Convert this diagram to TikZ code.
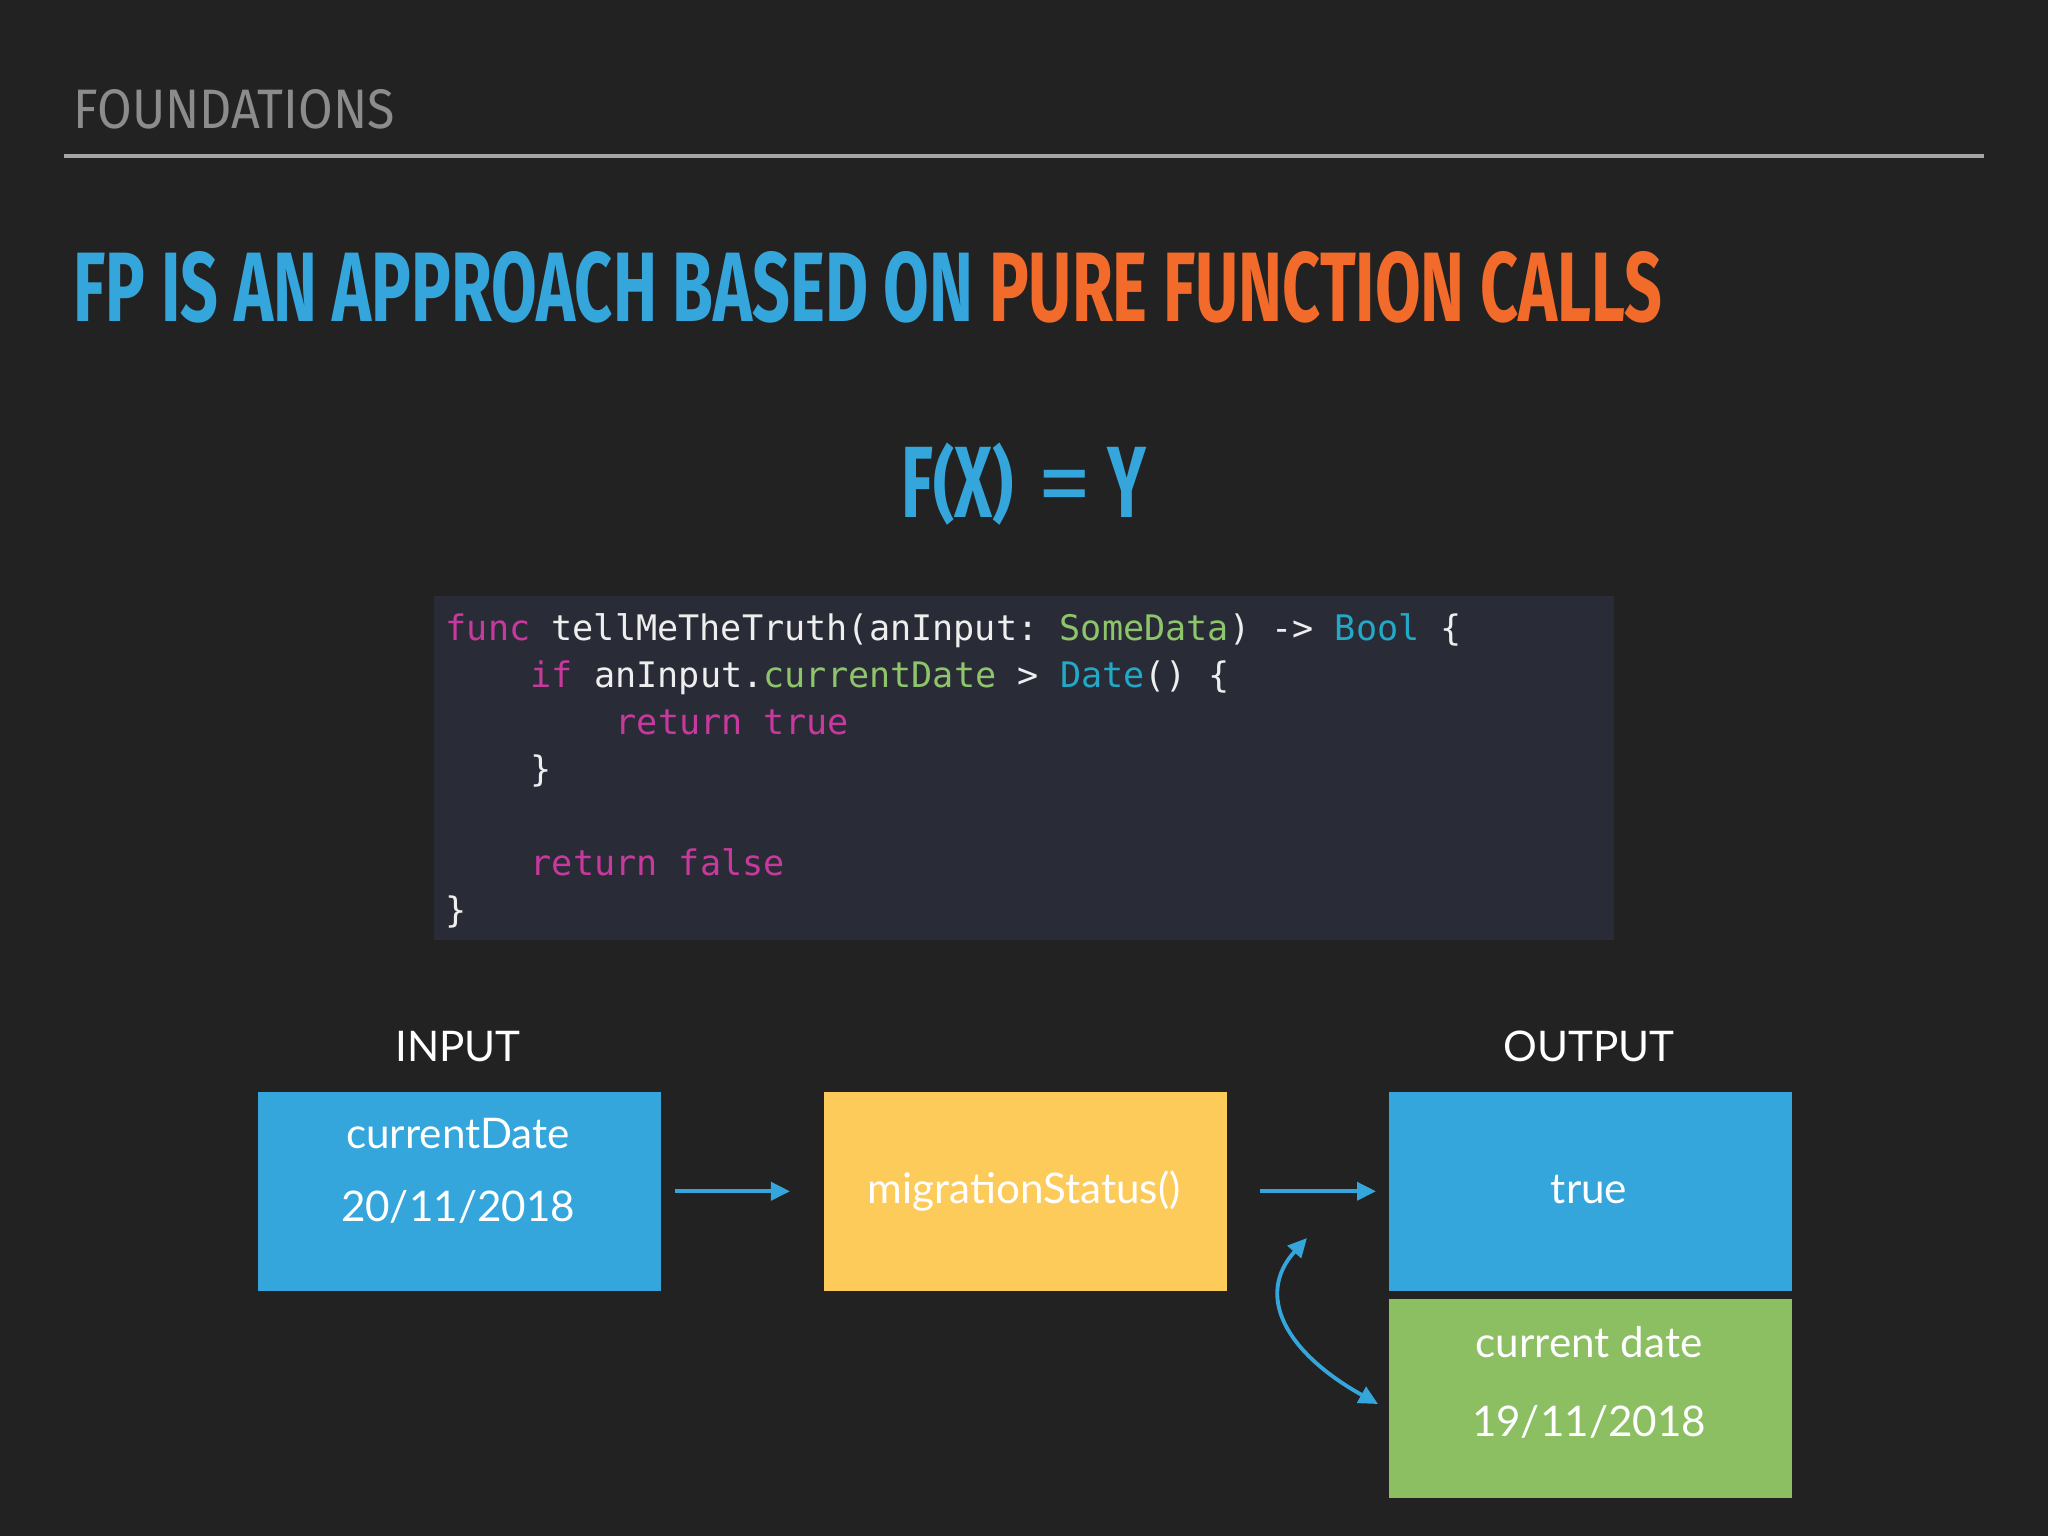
\documentclass[tikz,border=0pt]{standalone}
\usepackage{fontspec}
\usepackage{graphicx}
\setmainfont{Lato}
\setsansfont{Fira Sans}
\setmonofont{DejaVu Sans Mono}
\newfontfamily\dinfont[FakeStretch=0.6]{Fira Sans}
\usetikzlibrary{arrows.meta}
\definecolor{slidebg}{HTML}{222222}
\definecolor{panelbg}{HTML}{292B37}
\definecolor{headgray}{HTML}{8C8C8C}
\definecolor{rulegray}{HTML}{A6A6A6}
\definecolor{fpblue}{HTML}{35A6DC}
\definecolor{fporange}{HTML}{F26B2B}
\definecolor{fnyellow}{HTML}{FCCB5A}
\definecolor{dategreen}{HTML}{8CBE62}
\definecolor{kwpink}{HTML}{C8399E}
\definecolor{typegreen}{HTML}{8EC46A}
\definecolor{typecyan}{HTML}{23A9C8}
\definecolor{codewhite}{HTML}{EEEEEE}
\newcommand{\fxparen}[1]{\raisebox{0.04em}{\scalebox{1}[0.8]{#1}}}

\begin{document}
\begin{tikzpicture}[x=0.01cm,y=-0.01cm,
  txt/.style={inner sep=0pt,anchor=base,text=white,font=\fontsize{12}{14}\selectfont},
  codeline/.style={inner sep=0pt,anchor=base west,text=codewhite,font=\ttfamily\fontsize{10}{12}\selectfont},
  card/.style={rectangle,inner sep=0pt,anchor=north west,minimum width=4.03cm,minimum height=1.99cm},
  flow/.style={draw=fpblue,line width=1.1pt,-{Triangle[length=5.4pt,width=5.1pt]}},
  swap/.style={flow,{Triangle[length=5.4pt,width=5.1pt]}-{Triangle[length=5.4pt,width=5.1pt]}}]
\fill[slidebg] (0,0) rectangle (2048,1536);
\node[inner sep=0pt,anchor=base west,text=headgray] (kicker) at (73,128) {\resizebox{3.21cm}{0.39cm}{\sffamily FOUNDATIONS}};
\draw[rulegray,line width=1.1pt] (64,156) -- (1984,156);
\node[inner sep=0pt,anchor=base west] (headline) at (73,321) {\resizebox{15.88cm}{0.70cm}{\dinfont\bfseries\color{fpblue}FP IS AN APPROACH BASED ON \color{fporange}PURE FUNCTION CALLS}};
\node[inner sep=0pt,anchor=base,text=fpblue,font=\dinfont\bfseries\fontsize{27.7}{30}\selectfont] (formula) at (1024,517) {\scalebox{1.12}[1.04]{F\fxparen{(}X\fxparen{)}\hspace{6pt}{\sffamily\mdseries =}\hspace{4pt}Y}};

\fill[panelbg] (434,596) rectangle (1614,940);
\node[codeline] (codeSig) at (445,640) {{\color{kwpink}func} tellMeTheTruth(anInput: {\color{typegreen}SomeData}) -> {\color{typecyan}Bool} \{};
\node[codeline] (codeIf) at (530,687) {{\color{kwpink}if} anInput.{\color{typegreen}currentDate} > {\color{typecyan}Date}() \{};
\node[codeline,text=kwpink] (codeTrue) at (615,734) {return true};
\node[codeline] (codeClose) at (530,781) {\}};
\node[codeline,text=kwpink] (codeFalse) at (530,875) {return false};
\node[codeline] (codeEnd) at (445,922) {\}};

\node[card,fill=fpblue] (inBox) at (257,1091) {};
\node[card,fill=fnyellow] (fnBox) at (823,1091) {};
\node[card,fill=fpblue] (outBox) at (1388,1091) {};
\node[card,fill=dategreen] (dateBox) at (1388,1298) {};

\node[txt] (inLabel) at (458,1061) {INPUT};
\node[txt] (outLabel) at (1589,1061) {OUTPUT};
\node[txt] (inName) at (458,1148) {currentDate};
\node[txt] (inDate) at (458,1221) {20/11/2018};
\node[txt] (fnName) at (1024,1203) {migrationStatus()};
\node[txt] (outValue) at (1589,1203) {true};
\node[txt] (dateName) at (1589,1357) {current date};
\node[txt] (dateValue) at (1589,1436) {19/11/2018};

\draw[flow,shorten <=0.13cm,shorten >=0.33cm] (inBox.east) -- (fnBox.west);
\draw[flow,shorten <=0.32cm,shorten >=0.12cm] (fnBox.east) -- (outBox.west);
\coordinate (swapTop) at (1307,1238);
\coordinate (swapEnd) at (1378,1404);
\draw[swap] (swapTop) .. controls (1255,1295) and (1285,1352) .. (swapEnd);
\end{tikzpicture}
\end{document}
